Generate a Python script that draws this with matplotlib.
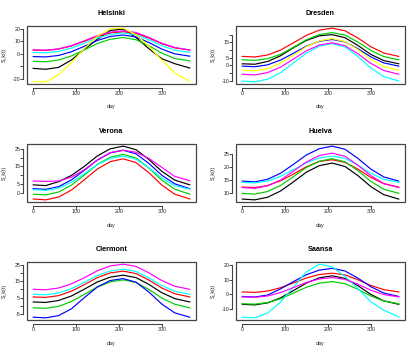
import matplotlib
matplotlib.use("Agg")
import matplotlib.pyplot as plt
from matplotlib.patches import Rectangle

plt.rcParams['font.family'] = ['Liberation Sans', 'DejaVu Sans']

days = [1, 30, 60, 90, 120, 150, 180, 210, 240, 270, 300, 330, 365]

helsinki = {
    "black":   [-11.8, -12.5, -11.0, -5.0, 3.5, 11.5, 18.6, 19.8, 13.0, 4.0, -4.0, -8.0, -11.5],
    "red":     [2.9, 2.6, 3.7, 6.2, 10.0, 13.9, 16.6, 17.6, 16.3, 12.5, 8.0, 4.7, 2.9],
    "green":   [-6.1, -6.5, -5.1, -1.8, 3.1, 8.1, 11.6, 13.0, 11.2, 6.4, 0.5, -3.8, -5.8],
    "blue":    [-2.3, -2.6, -1.4, 1.6, 6.0, 10.6, 13.8, 15.0, 13.4, 9.0, 3.7, -0.1, -2.0],
    "cyan":    [1.0, 0.7, 1.8, 4.5, 8.5, 12.6, 15.5, 16.6, 15.2, 11.2, 6.4, 2.9, 1.0],
    "magenta": [3.1, 2.8, 3.9, 6.5, 10.4, 14.5, 17.3, 18.4, 17.0, 13.1, 8.4, 5.0, 3.0],
    "yellow":  [-22.4, -22.6, -16.9, -7.1, 4.2, 14.1, 20.0, 20.5, 15.3, 6.0, -5.2, -15.3, -22.3],
}
dresden = {
    "black":   [1.1, 0.8, 2.6, 6.3, 11.5, 16.2, 19.2, 20.0, 18.0, 13.0, 7.2, 3.2, 1.1],
    "red":     [5.9, 5.5, 6.8, 10.0, 14.7, 19.5, 22.9, 24.2, 22.5, 17.8, 12.2, 8.1, 5.9],
    "green":   [3.7, 3.3, 4.4, 7.2, 11.8, 16.6, 20.0, 21.3, 19.7, 15.2, 9.8, 5.8, 3.7],
    "blue":    [-0.4, -0.8, 0.4, 3.5, 7.9, 12.5, 15.7, 16.9, 15.3, 10.9, 5.6, 1.7, -0.4],
    "cyan":    [-10.1, -10.6, -8.9, -4.7, 1.6, 8.0, 12.5, 14.2, 12.0, 5.8, -1.7, -7.1, -10.1],
    "magenta": [-5.7, -6.1, -4.6, -1.1, 4.1, 9.5, 13.2, 14.7, 12.8, 7.6, 1.4, -3.2, -5.7],
    "yellow":  [-3.1, -3.5, -2.0, 1.5, 6.7, 12.2, 15.9, 17.4, 15.5, 10.3, 4.0, -0.6, -3.1],
}
verona = {
    "black":   [4.7, 4.3, 6.5, 10.0, 15.1, 20.9, 24.9, 26.4, 24.4, 18.9, 12.3, 7.4, 4.7],
    "red":     [-3.2, -3.7, -2.1, 1.8, 7.6, 13.6, 17.7, 19.3, 17.2, 11.5, 4.6, -0.5, -3.2],
    "green":   [-0.5, -0.9, 0.7, 4.6, 10.2, 16.1, 20.2, 21.8, 19.8, 14.1, 7.3, 2.3, -0.5],
    "blue":    [2.6, 2.2, 3.7, 7.5, 12.9, 18.6, 22.6, 24.1, 22.1, 16.7, 10.1, 5.3, 2.6],
    "cyan":    [2.0, 1.6, 2.9, 6.2, 11.0, 16.0, 19.5, 20.8, 19.1, 14.3, 8.5, 4.3, 2.3],
    "magenta": [6.9, 6.6, 6.9, 9.0, 13.2, 18.6, 22.8, 24.1, 23.0, 19.5, 14.5, 9.5, 7.0],
}
huelva = {
    "black":   [7.7, 7.4, 8.4, 10.8, 14.3, 18.0, 20.5, 21.5, 20.2, 16.7, 12.5, 9.4, 7.7],
    "red":     [12.3, 12.1, 12.9, 14.7, 17.3, 20.1, 22.1, 22.8, 21.8, 19.2, 16.0, 13.6, 12.3],
    "green":   [9.9, 9.6, 10.6, 12.9, 16.3, 19.8, 22.2, 23.2, 22.0, 18.6, 14.5, 11.5, 9.9],
    "blue":    [14.6, 14.3, 15.3, 17.6, 21.0, 24.6, 27.0, 28.0, 26.8, 23.3, 19.2, 16.2, 14.6],
    "cyan":    [14.1, 13.9, 14.6, 16.4, 19.0, 21.6, 23.5, 24.2, 23.3, 20.7, 17.6, 15.3, 14.1],
    "magenta": [12.1, 11.8, 12.8, 15.0, 18.4, 21.9, 24.4, 25.3, 24.1, 20.7, 16.7, 13.7, 12.1],
}
clermont = {
    "black":   [2.3, 2.0, 3.2, 6.0, 10.2, 14.6, 17.6, 18.8, 17.3, 13.1, 8.0, 4.4, 2.3],
    "red":     [5.4, 5.1, 6.2, 9.0, 13.0, 17.3, 20.2, 21.3, 19.8, 15.8, 10.9, 7.4, 5.4],
    "green":   [-1.3, -1.6, -0.4, 2.6, 7.0, 11.5, 14.7, 15.9, 14.3, 10.0, 4.7, 0.9, -1.3],
    "blue":    [-7.1, -7.5, -6.1, -1.9, 5.0, 11.5, 15.5, 16.7, 14.5, 8.4, 1.0, -4.4, -7.1],
    "cyan":    [7.0, 6.7, 7.8, 10.5, 14.4, 18.6, 21.4, 22.5, 21.1, 17.1, 12.4, 8.9, 7.0],
    "magenta": [10.1, 9.8, 10.9, 13.5, 17.3, 21.5, 24.5, 25.6, 24.2, 20.2, 15.5, 12.0, 10.1],
}
saansa = {
    "black":   [-6.8, -7.2, -5.8, -2.4, 2.6, 7.8, 11.4, 12.8, 11.0, 6.0, 0.0, -4.4, -6.8],
    "red":     [1.7, 1.4, 2.3, 4.6, 7.9, 11.3, 13.7, 14.6, 13.4, 10.1, 6.2, 3.3, 1.7],
    "green":   [-6.4, -6.7, -5.6, -3.0, 0.9, 4.9, 7.7, 8.8, 7.4, 3.5, -1.1, -4.5, -6.4],
    "blue":    [-1.4, -1.8, -0.4, 3.8, 8.8, 13.5, 16.7, 17.9, 16.1, 11.2, 5.3, 1.0, -1.4],
    "cyan":    [-15.6, -16.1, -12.8, -5.3, 5.0, 15.5, 20.8, 19.0, 12.3, 4.0, -5.0, -10.8, -15.4],
    "magenta": [-1.7, -2.0, -1.1, 1.3, 4.7, 8.2, 10.6, 11.6, 10.4, 7.0, 2.9, -0.1, -1.7],
}

titles = ["Helsinki", "Dresden", "Verona", "Huelva", "Clermont", "Saansa"]
panels = [helsinki, dresden, verona, huelva, clermont, saansa]
yticks = [
    [-20, -10, 0, 10, 20],
    [-10, -5, 0, 5, 10, 15, 20],
    [0, 5, 10, 15, 20, 25],
    [10, 15, 20, 25],
    [-5, 0, 5, 10, 15, 20, 25],
    [-10, 0, 10, 20],
]
ylabels = [
    ["-20", "", "0", "10", "20"],
    ["-10", "", "0", "5", "", "15", ""],
    ["0", "5", "", "15", "", "25"],
    ["10", "15", "20", "25"],
    ["-5", "", "5", "", "15", "", "25"],
    ["-10", "0", "10", "20"],
]
xticks = [0, 100, 200, 300]
xlabels = ["0", "100", "200", "300"]

order = ["black", "red", "green", "blue", "cyan", "magenta", "yellow"]
colors = {"black": "#000000", "red": "#FF0000", "green": "#00CD00",
          "blue": "#0000FF", "cyan": "#00FFFF", "magenta": "#FF00FF",
          "yellow": "#FFFF00"}

W, H = 418, 354
fig = plt.figure(figsize=(W / 100, H / 100), dpi=100)

FS = 3.8
for i, (title, data) in enumerate(zip(titles, panels)):
    r, c = divmod(i, 2)
    x0 = c * 209 + 27
    x1 = c * 209 + 196
    y0 = r * 118 + 26
    y1 = r * 118 + 84
    ax = fig.add_axes([x0 / W, 1 - y1 / H, (x1 - x0) / W, (y1 - y0) / H])
    for name in order:
        if name in data:
            ax.plot(days, data[name], color=colors[name], lw=0.85,
                    solid_joinstyle='round')
    ax.margins(x=0.04, y=0.04)
    ax.set_xticks(xticks)
    ax.set_xticklabels(xlabels)
    ax.set_yticks(yticks[i])
    ax.set_yticklabels(ylabels[i], rotation=90, va='center')
    for s in ("top", "right"):
        ax.spines[s].set_visible(False)
    for s in ("left", "bottom"):
        ax.spines[s].set_position(("outward", 2.7))
        ax.spines[s].set_color("#444444")
        ax.spines[s].set_linewidth(0.8)
    ax.spines["bottom"].set_bounds(xticks[0], xticks[-1])
    ax.spines["left"].set_bounds(yticks[i][0], yticks[i][-1])
    ax.tick_params(axis='both', length=2.0, width=0.7, color="#444444",
                   labelsize=FS, labelcolor="#222222")
    ax.tick_params(axis='x', pad=0.4)
    ax.tick_params(axis='y', pad=0.2)
    ax.add_patch(Rectangle((0, 0), 1, 1, transform=ax.transAxes, fill=False,
                           edgecolor="#444444", lw=0.9, clip_on=False))
    ax.patch.set_visible(False)
    cx = (x0 + x1) / 2
    fig.text(cx / W, 1 - (r * 118 + 13.5) / H, title, ha='center', va='center',
             fontsize=5.2, fontweight='bold', color="#000000")
    fig.text(cx / W, 1 - (r * 118 + 107) / H, "day", ha='center', va='center',
             fontsize=FS, color="#222222")
    fig.text((c * 209 + 4.5) / W, 1 - (r * 118 + 55) / H, "S_k(t)",
             ha='center', va='center', rotation=90, fontsize=FS, color="#222222")

fig.savefig("out.png", dpi=100)
